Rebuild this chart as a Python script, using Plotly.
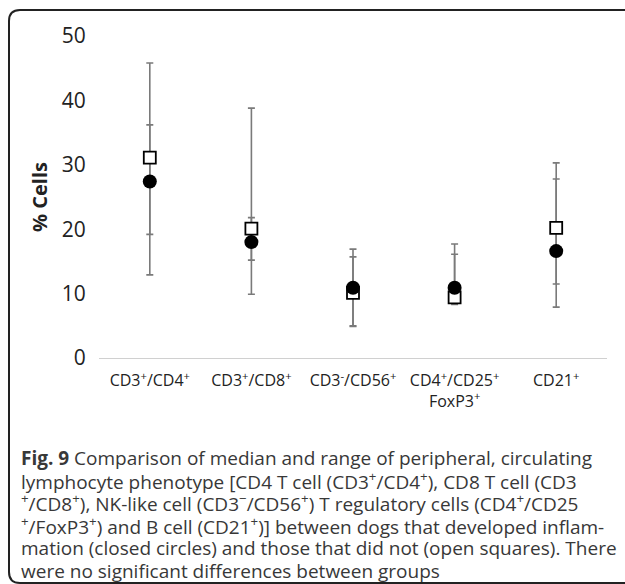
import plotly.graph_objects as go

# ---- data ----
categories = ["CD3<sup>+</sup>/CD4<sup>+</sup>", "CD3<sup>+</sup>/CD8<sup>+</sup>",
              "CD3<sup>-</sup>/CD56<sup>+</sup>", "CD4<sup>+</sup>/CD25<sup>+</sup><br>FoxP3<sup>+</sup>",
              "CD21<sup>+</sup>"]
circle_median = [27.4, 18.0, 10.9, 10.9, 16.6]
circle_min = [12.9, 9.9, 4.9, 8.3, 7.9]
circle_max = [45.8, 38.8, 16.9, 17.7, 30.3]
square_median = [31.1, 20.1, 10.1, 9.4, 20.2]
square_min = [19.2, 15.2, 5.0, 8.5, 11.5]
square_max = [36.2, 21.8, 15.7, 16.1, 27.8]
y_ticks = [0, 10, 20, 30, 40, 50]

caption_lines = [
    "<b>Fig. 9</b> Comparison of median and range of peripheral, circulating",
    "lymphocyte phenotype [CD4 T cell (CD3<sup>+</sup>/CD4<sup>+</sup>), CD8 T cell (CD3",
    "<sup>+</sup>/CD8<sup>+</sup>), NK-like cell (CD3<sup>−</sup>/CD56<sup>+</sup>) T regulatory cells (CD4<sup>+</sup>/CD25",
    "<sup>+</sup>/FoxP3<sup>+</sup>) and B cell (CD21<sup>+</sup>)] between dogs that developed inflam-",
    "mation (closed circles) and those that did not (open squares). There",
    "were no significant differences between groups",
]

W, H = 625, 584
L, R, T, B = 99, 18, 36, 226
PW, PH = W - L - R, H - T - B


def px(x):
    return (x - L) / PW


def py(y):
    return (H - B - y) / PH


xs = list(range(len(categories)))

fig = go.Figure()


def err_trace(med, lo, hi):
    return go.Scatter(
        x=xs, y=med, mode="markers",
        marker=dict(size=1, color="rgba(0,0,0,0)"),
        error_y=dict(type="data", symmetric=False,
                     array=[h - m for h, m in zip(hi, med)],
                     arrayminus=[m - l for m, l in zip(med, lo)],
                     color="#7a7a7a", thickness=1.6, width=3.5),
        showlegend=False, hoverinfo="skip")


fig.add_trace(err_trace(square_median, square_min, square_max))
fig.add_trace(err_trace(circle_median, circle_min, circle_max))
fig.add_trace(go.Scatter(x=xs, y=square_median, mode="markers", name="No inflammation",
                         marker=dict(symbol="square", size=12, color="white",
                                     line=dict(color="black", width=1.8)),
                         showlegend=False))
fig.add_trace(go.Scatter(x=xs, y=circle_median, mode="markers", name="Inflammation",
                         marker=dict(symbol="circle", size=14, color="black",
                                     line=dict(width=0)),
                         showlegend=False))

# rounded frame
x0, x1 = px(9), px(632)
y0, y1 = py(10), py(583)
rx, ry = 11 / PW, 11 / PH
path = (f"M {x0+rx},{y0} L {x1},{y0} M {x0+rx},{y0} Q {x0},{y0} {x0},{y0-ry} "
        f"L {x0},{y1+ry} Q {x0},{y1} {x0+rx},{y1} L {x1},{y1}")
fig.add_shape(type="path", path=path, xref="paper", yref="paper",
              line=dict(color="#222", width=2))

for i, line in enumerate(caption_lines):
    fig.add_annotation(text=line, xref="paper", yref="paper", x=px(19), y=py(458 + i * 22.6),
                       xanchor="left", yanchor="middle", align="left", showarrow=False,
                       font=dict(family="Open Sans", size=19, color="#383838"))

fig.update_layout(
    width=W, height=H, margin=dict(l=L, r=R, t=T, b=B),
    paper_bgcolor="white", plot_bgcolor="white",
    font=dict(family="Open Sans", color="#222"),
    xaxis=dict(range=[-0.5, len(categories) - 0.5], tickmode="array", tickvals=xs,
               ticktext=categories, showgrid=False, zeroline=False,
               showline=True, linecolor="#d0d0d0", linewidth=1.2,
               ticks="outside", ticklen=8, tickcolor="rgba(0,0,0,0)",
               tickfont=dict(size=16, color="#222")),
    yaxis=dict(range=[0, 50], tickmode="array", tickvals=y_ticks, showgrid=False,
               zeroline=False, showline=False, ticks="outside", ticklen=8,
               tickcolor="rgba(0,0,0,0)",
               tickfont=dict(size=21, color="#222"),
               title=dict(text="<b>% Cells</b>", font=dict(size=20, color="#222"), standoff=8)),
)

fig.write_html("out.html")
